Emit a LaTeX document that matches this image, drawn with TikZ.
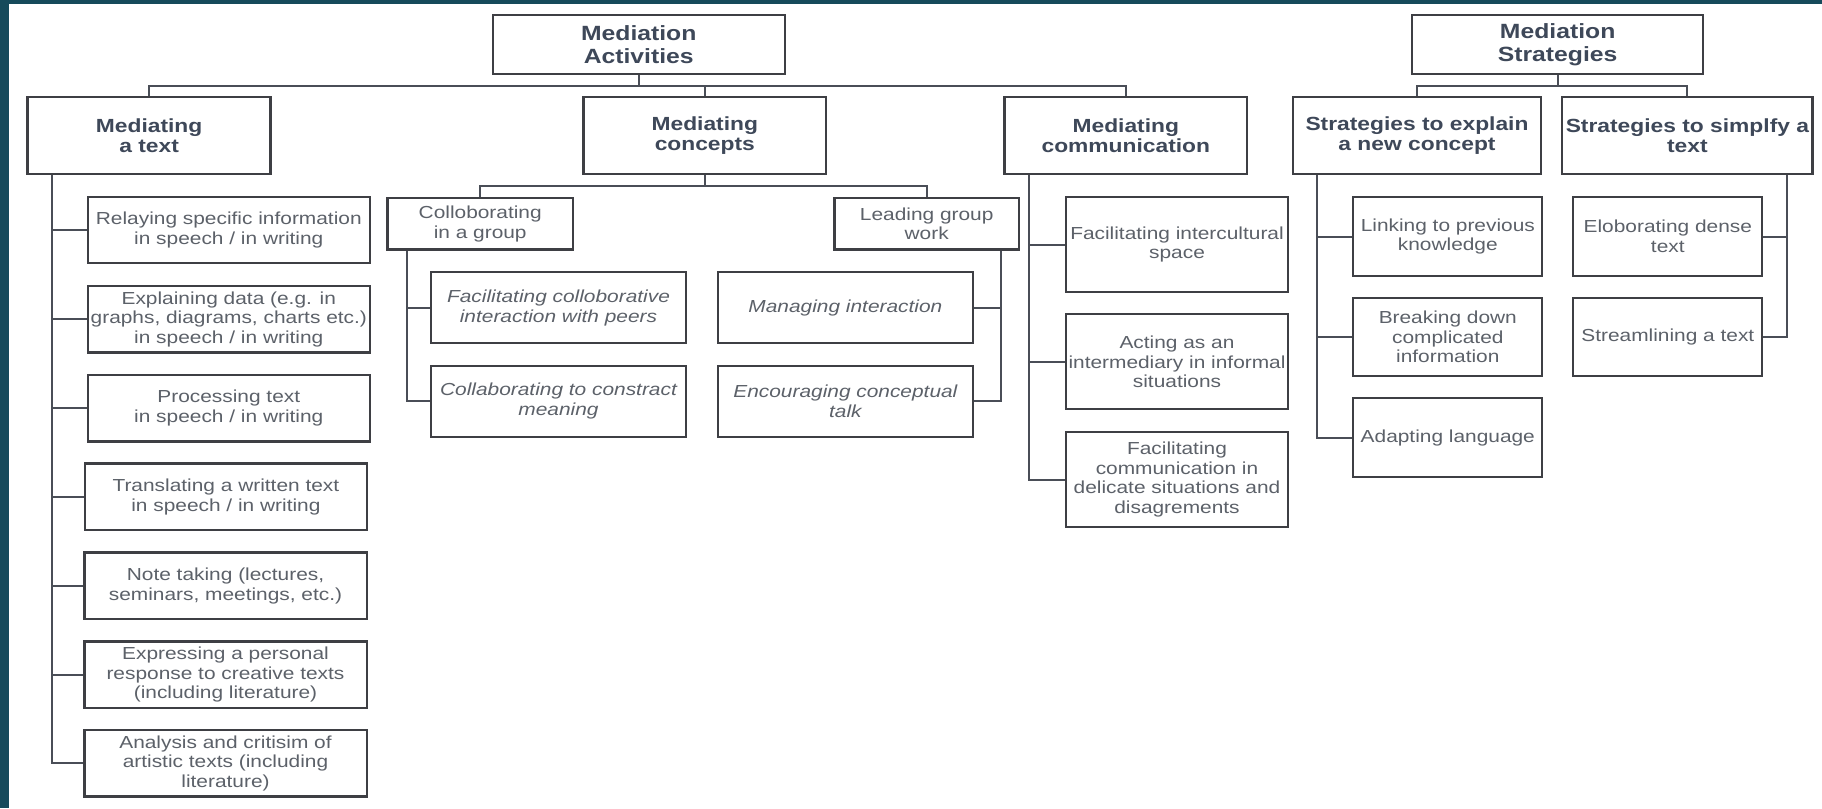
\documentclass[tikz,border=0pt]{standalone}
\usepackage{fontspec}
\setmainfont{Liberation Sans}[FakeStretch=1.2]
\definecolor{band}{HTML}{164A5B}
\definecolor{boxc}{HTML}{3E3F44}
\definecolor{connc}{HTML}{4A4E57}
\definecolor{hdrc}{HTML}{3E4859}
\definecolor{txtc}{HTML}{5C6169}
\newcommand\tophdrfont{\fontsize{20.6}{23}\selectfont\bfseries}
\newcommand\hdrfont{\fontsize{19}{20.5}\selectfont\bfseries}
\newcommand\txtfont{\fontsize{17.4}{19.7}\selectfont}
\newcommand\itxfont{\fontsize{17.4}{19.7}\selectfont\itshape}
\tikzset{
  boxbase/.style={draw=boxc, line width=2.3pt, fill=white, inner sep=0pt, align=center},
  tophdr/.style={boxbase, font=\tophdrfont, text=hdrc},
  hdr/.style={boxbase, font=\hdrfont, text=hdrc},
  txt/.style={boxbase, font=\txtfont, text=txtc},
  itx/.style={boxbase, font=\itxfont, text=txtc},
  conn/.style={draw=connc, line width=2pt},
}
\begin{document}
\begin{tikzpicture}[x=1pt,y=-1pt]
\useasboundingbox (0,0) rectangle (1822,808);
\fill[white] (0,0) rectangle (1822,808);
\fill[band] (0,0) rectangle (9,808);
\fill[band] (0,0) rectangle (1822,4);

% top level
\node[tophdr, minimum width=292pt, minimum height=59pt] (ma) at (638.75,44.5) {Mediation\\Activities};
\node[tophdr, minimum width=290.7pt, minimum height=59pt] (ms) at (1557.65,44.5) {Mediation\\Strategies};

% level 2
\node[hdr, minimum width=243pt, minimum height=77.6pt] (mat) at (149.1,135.5) {Mediating\\a text};
\node[hdr, minimum width=242.4pt, minimum height=77.6pt] (mc) at (704.8,135.5) {Mediating\\concepts};
\node[hdr, minimum width=242.4pt, minimum height=77.6pt] (mcomm) at (1125.8,135.5) {Mediating\\communication};
\node[hdr, minimum width=248.6pt, minimum height=77.6pt] (sexp) at (1417,135.5) {Strategies to explain\\a new concept};
\node[hdr, minimum width=250.2pt, minimum height=77.6pt] (ssim) at (1687.4,135.5) {Strategies to simplfy a\\text};

% left column
\tikzset{lcol/.style={txt, minimum width=282.3pt, minimum height=66.6pt}}
\node[lcol] (relay) at (228.8,230) {Relaying specific information\\in speech / in writing};
\node[lcol] (expl) at (228.8,319.2) {Explaining data (e.g. in\\graphs, diagrams, charts etc.)\\in speech / in writing};
\node[lcol] (proc) at (228.8,408.3) {Processing text\\in speech / in writing};
\node[lcol] (transl) at (225.9,496.7) {Translating a written text\\in speech / in writing};
\node[lcol] (note) at (225.5,585.7) {Note taking (lectures,\\seminars, meetings, etc.)};
\node[lcol] (expr) at (225.5,674.7) {Expressing a personal\\response to creative texts\\(including literature)};
\node[lcol] (anal) at (225.5,763.3) {Analysis and critisim of\\artistic texts (including\\literature)};

% concepts
\node[txt, minimum width=185.7pt, minimum height=51.3pt] (collab) at (480.2,223.7) {Colloborating\\in a group};
\node[txt, minimum width=184.7pt, minimum height=51.3pt] (lead) at (926.7,223.7) {Leading group\\work};
\tikzset{ibox/.style={itx, minimum width=255pt, minimum height=71pt}}
\node[ibox] (facol) at (558.5,307.8) {Facilitating colloborative\\interaction with peers};
\node[ibox] (colcon) at (558.5,401.2) {Collaborating to constract\\meaning};
\node[ibox] (manag) at (845.4,307.8) {Managing interaction};
\node[ibox] (encour) at (845.4,401.2) {Encouraging conceptual\\talk};

% communication
\tikzset{cbox/.style={txt, minimum width=222.6pt, minimum height=95pt}}
\node[cbox] (fint) at (1177,244.5) {Facilitating intercultural\\space};
\node[cbox] (act) at (1177,361.8) {Acting as an\\intermediary in informal\\situations};
\node[cbox] (fcom) at (1177,479.5) {Facilitating\\communication in\\delicate situations and\\disagrements};

% strategies
\tikzset{sbox/.style={txt, minimum width=189pt, minimum height=78.4pt}}
\node[sbox] (link) at (1447.8,236.5) {Linking to previous\\knowledge};
\node[sbox] (brk) at (1447.8,336.85) {Breaking down\\complicated\\information};
\node[sbox] (adapt) at (1447.8,437.5) {Adapting language};
\node[sbox] (elob) at (1667.8,236.5) {Eloborating dense\\text};
\node[sbox] (stream) at (1667.8,336.85) {Streamlining a text};

% connectors
\coordinate (busA) at (638.75,86);
\draw[conn] (mat.north) |- (busA) -| (mcomm.north);
\draw[conn] (ma.south) -- (busA);
\draw[conn] (mc.north) -- (mc.north |- busA);

\coordinate (busB) at (1557.65,86);
\draw[conn] (sexp.north) |- (busB) -| (ssim.north);
\draw[conn] (ms.south) -- (busB);

\coordinate (lvx) at (52,0);
\draw[conn] (lvx |- mat.south) |- (anal.west);
\foreach \n in {relay,expl,proc,transl,note,expr}
  \draw[conn] (lvx |- \n.west) -- (\n.west);

\coordinate (busC) at (704.8,185.7);
\draw[conn] (collab.north) |- (busC) -| (lead.north);
\draw[conn] (mc.south) -- (busC);

\coordinate (cvx) at (406.5,0);
\draw[conn] (cvx |- collab.south) |- (colcon.west);
\draw[conn] (cvx |- facol.west) -- (facol.west);

\coordinate (ldx) at (1001,0);
\draw[conn] (ldx |- lead.south) |- (encour.east);
\draw[conn] (ldx |- manag.east) -- (manag.east);

\coordinate (cmx) at (1029.3,0);
\draw[conn] (cmx |- mcomm.south) |- (fcom.west);
\draw[conn] (cmx |- fint.west) -- (fint.west);
\draw[conn] (cmx |- act.west) -- (act.west);

\coordinate (exx) at (1316.7,0);
\draw[conn] (exx |- sexp.south) |- (adapt.west);
\draw[conn] (exx |- link.west) -- (link.west);
\draw[conn] (exx |- brk.west) -- (brk.west);

\coordinate (six) at (1787.3,0);
\draw[conn] (six |- ssim.south) |- (stream.east);
\draw[conn] (six |- elob.east) -- (elob.east);
\end{tikzpicture}
\end{document}
